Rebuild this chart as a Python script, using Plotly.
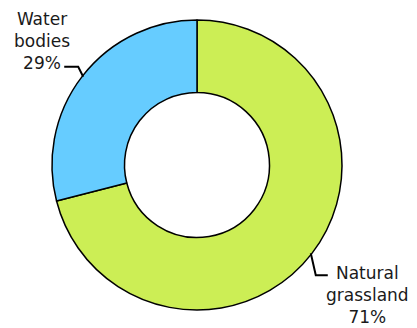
import math
import plotly.graph_objects as go

labels = ["Natural grassland", "Water bodies"]
label_lines = [["Natural", "grassland"], ["Water", "bodies"]]
values = [71, 29]
colors = ["#ccee55", "#66ccff"]

W, H = 417, 328
CX, CY, R = 197, 165, 145  # pie centre / radius in pixels

fig = go.Figure(go.Pie(
    labels=labels, values=values, sort=False, direction="clockwise", rotation=0,
    hole=0.5, textinfo="none", hoverinfo="label+percent",
    marker=dict(colors=colors, line=dict(color="#000000", width=1.5)),
    domain=dict(x=[(CX - R) / W, (CX + R) / W], y=[1 - (CY + R) / H, 1 - (CY - R) / H]),
    showlegend=False,
))

def px(x):
    return x / W

def py(y):
    return 1 - y / H

# leader-line styling per slice: (elbow offset dx, dy, horizontal run, text offset dx, dy, anchor)
styles = {
    "Natural grassland": dict(elb=(5, 22), run=12, txt=(40, -14), yanchor="top"),
    "Water bodies": dict(elb=(-5, -10), run=-14, txt=(-22, 8), yanchor="bottom"),
}

total = sum(values)
start = 0.0
shapes, annotations = [], []
for lab, lines, v in zip(labels, label_lines, values):
    frac = v / total
    mid = (start + frac / 2) * 2 * math.pi
    start += frac
    ex = CX + (R - 1) * math.sin(mid)
    ey = CY - (R - 1) * math.cos(mid)
    st = styles[lab]
    bx, by = ex + st["elb"][0], ey + st["elb"][1]
    hx = bx + st["run"]
    shapes.append(dict(
        type="path", xref="paper", yref="paper",
        path=f"M {px(ex)} {py(ey)} L {px(bx)} {py(by)} L {px(hx)} {py(by)}",
        line=dict(color="#000000", width=2),
    ))
    pct = round(frac * 100)
    annotations.append(dict(
        x=px(hx + st["txt"][0]), y=py(by + st["txt"][1]), xref="paper", yref="paper",
        text="<br>".join(lines + [f"{pct}%"]), showarrow=False, align="center",
        xanchor="center", yanchor=st["yanchor"],
        font=dict(family="DejaVu Sans", size=17, color="#1a1a1a"),
    ))

fig.update_layout(
    width=W, height=H, margin=dict(l=0, r=0, t=0, b=0),
    paper_bgcolor="white", plot_bgcolor="white",
    shapes=shapes, annotations=annotations,
)

fig.write_html("out.html")
